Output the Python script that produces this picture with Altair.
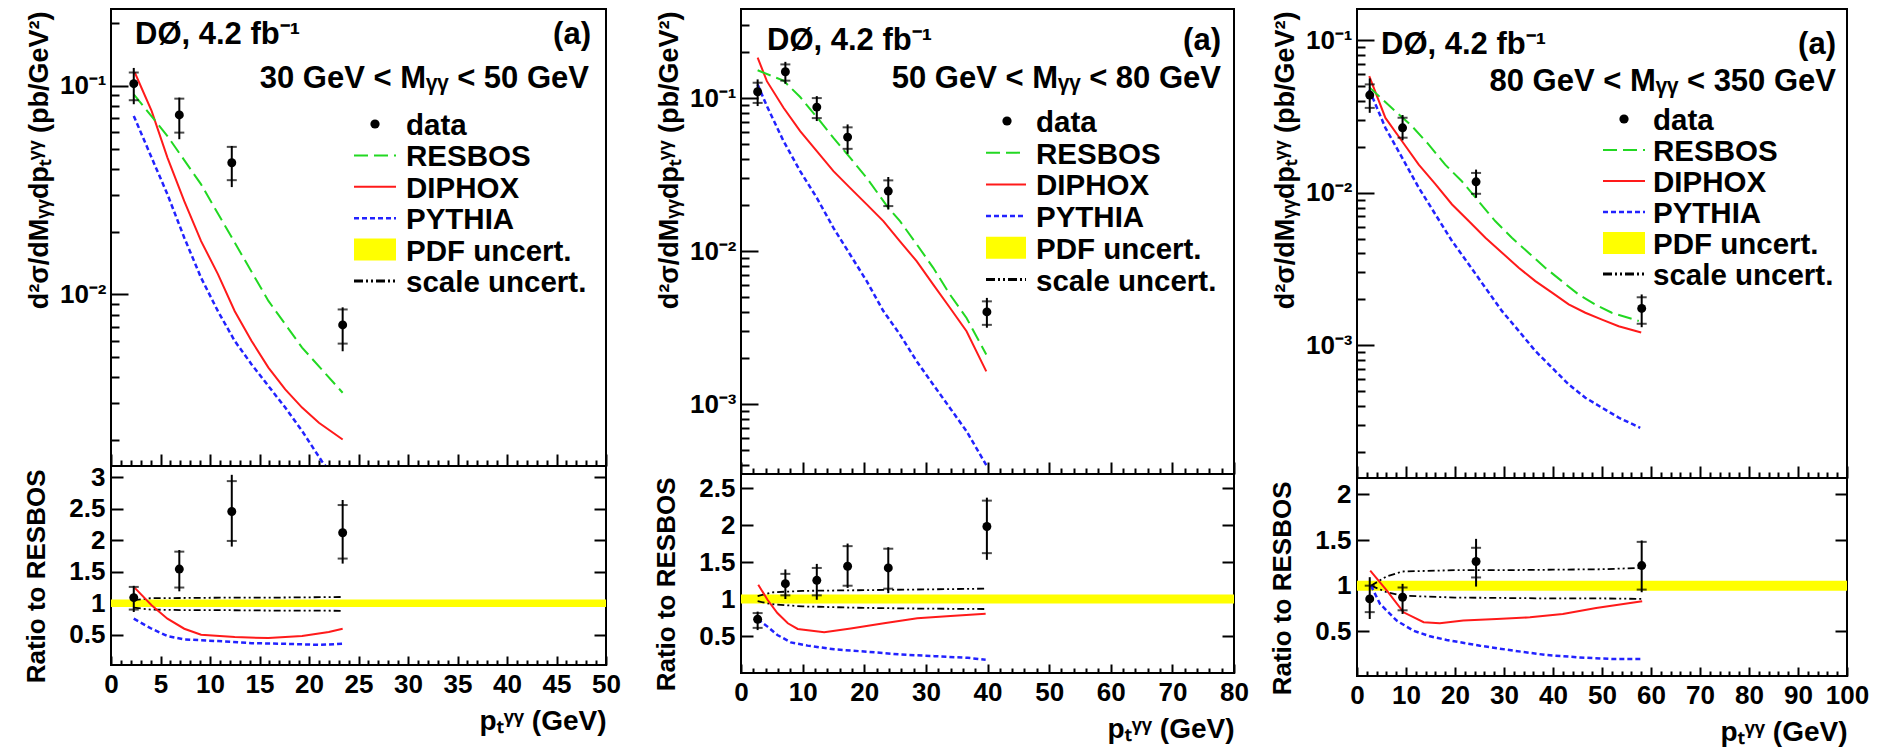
import altair as alt
import pandas as pd

FONT = "Liberation Sans"
GREEN = "#22d822"
RED = "#ff1a1a"
BLUE = "#2222ff"
YELLOW = "#ffff00"

EXPT_LABEL = "DØ, 4.2 fb⁻¹"
PANEL_TAG = "(a)"
MASS_LABELS = ["30 GeV < Mᵧᵧ < 50 GeV", "50 GeV < Mᵧᵧ < 80 GeV", "80 GeV < Mᵧᵧ < 350 GeV"]
LEGEND_LABELS = ["data", "RESBOS", "DIPHOX", "PYTHIA", "PDF uncert.", "scale uncert."]
Y_TITLE = "d²σ/dMᵧᵧdpₜᵞᵞ (pb/GeV²)"
R_TITLE = "Ratio to RESBOS"
X_TITLE = "pₜᵞᵞ (GeV)"

# ---------------- Panel 1 : 30 < M < 50 GeV ----------------
P1_XMAX = 50
P1_X = [2.3, 6.9, 12.2, 23.4]
P1_Y = [0.1025, 0.0726, 0.0428, 0.00713]
P1_TOT_LO = [0.0817, 0.0555, 0.0327, 0.00533]
P1_TOT_HI = [0.122, 0.0879, 0.0515, 0.00866]
P1_STAT_LO = [0.0854, 0.0597, 0.0353, 0.0058]
P1_STAT_HI = [0.116, 0.0869, 0.051, 0.00846]
P1_RES_X = [2.3, 5.7, 9.1, 12.5, 15.9, 19.3, 23.4]
P1_RES_Y = [0.0912, 0.0575, 0.0337, 0.0177, 0.0093, 0.00555, 0.00337]
P1_DIP_X = [2.4, 4.1, 5.7, 7.4, 9.1, 10.8, 12.5, 14.2, 15.9, 17.6, 19.3, 21.0, 23.4]
P1_DIP_Y = [0.116, 0.0759, 0.0453, 0.028, 0.018, 0.0125, 0.0083, 0.00597, 0.00445, 0.0035, 0.00286, 0.00242, 0.00201]
P1_PYT_X = [2.3, 4.1, 5.7, 7.4, 9.1, 10.8, 12.5, 14.2, 15.9, 17.6, 19.3, 21.3, 23.4]
P1_PYT_Y = [0.0718, 0.0453, 0.0302, 0.0187, 0.012, 0.0083, 0.00597, 0.00461, 0.00363, 0.00286, 0.00221, 0.00158, 0.00118]
P1_R = [1.09, 1.543, 2.457, 2.12]
P1_R_TOT_LO = [0.862, 1.19, 1.90, 1.63]
P1_R_TOT_HI = [1.277, 1.846, 3.04, 2.64]
P1_R_STAT_LO = [0.90, 1.25, 1.99, 1.71]
P1_R_STAT_HI = [1.26, 1.82, 2.94, 2.56]
P1_RDIP_X = [2.4, 4.1, 5.7, 7.4, 9.1, 12.5, 15.9, 19.3, 22.0, 23.4]
P1_RDIP_Y = [1.245, 0.968, 0.755, 0.596, 0.50, 0.463, 0.447, 0.479, 0.543, 0.596]
P1_RPYT_X = [2.3, 4.1, 5.7, 7.4, 10.8, 14.2, 17.6, 21.0, 23.4]
P1_RPYT_Y = [0.755, 0.596, 0.479, 0.426, 0.40, 0.367, 0.356, 0.34, 0.356]
P1_SCALE_X = [2.3, 4.0, 8.0, 12.0, 16.0, 20.0, 23.4]
P1_SCALE_UP = [1.05, 1.08, 1.085, 1.09, 1.09, 1.095, 1.10]
P1_SCALE_DN = [0.93, 0.90, 0.89, 0.89, 0.885, 0.885, 0.88]
P1_BAND = [0.94, 1.06]

# ---------------- Panel 2 : 50 < M < 80 GeV ----------------
P2_XMAX = 80
P2_X = [2.7, 7.2, 12.3, 17.3, 23.9, 39.9]
P2_Y = [0.11, 0.1486, 0.0873, 0.0556, 0.0247, 0.00401]
P2_TOT_LO = [0.0887, 0.124, 0.0708, 0.0432, 0.0187, 0.00316]
P2_TOT_HI = [0.1325, 0.1725, 0.103, 0.0673, 0.0305, 0.00495]
P2_STAT_LO = [0.093, 0.130, 0.074, 0.0466, 0.0197, 0.0033]
P2_STAT_HI = [0.126, 0.166, 0.10, 0.0644, 0.029, 0.0047]
P2_RES_X = [2.7, 6.9, 9.6, 12.3, 15.0, 17.7, 20.4, 23.9, 25.8, 28.5, 31.2, 33.9, 36.6, 39.8]
P2_RES_Y = [0.152, 0.130, 0.1016, 0.0752, 0.055, 0.0408, 0.0301, 0.0192, 0.0157, 0.0111, 0.00778, 0.00521, 0.00366, 0.00211]
P2_DIP_X = [2.7, 4.2, 6.9, 9.6, 12.3, 15.0, 17.7, 20.4, 23.1, 25.8, 28.5, 31.2, 33.9, 36.6, 39.8]
P2_DIP_Y = [0.1836, 0.129, 0.0865, 0.0608, 0.045, 0.0333, 0.0259, 0.0202, 0.0157, 0.0116, 0.0086, 0.00605, 0.00427, 0.003, 0.00164]
P2_PYT_X = [2.7, 4.2, 6.9, 9.6, 12.3, 15.0, 17.7, 20.4, 23.1, 25.8, 28.5, 31.2, 33.9, 36.6, 39.8]
P2_PYT_Y = [0.1228, 0.0887, 0.0524, 0.0333, 0.0223, 0.0142, 0.00951, 0.00637, 0.00406, 0.00285, 0.00191, 0.00134, 0.000946, 0.000666, 0.00040]
P2_R = [0.727, 1.207, 1.253, 1.443, 1.42, 1.98]
P2_R_TOT_LO = [0.58, 1.0, 0.99, 1.15, 1.08, 1.53]
P2_R_TOT_HI = [0.83, 1.40, 1.475, 1.75, 1.70, 2.37]
P2_R_STAT_LO = [0.61, 1.05, 1.05, 1.18, 1.14, 1.62]
P2_R_STAT_HI = [0.81, 1.34, 1.42, 1.715, 1.68, 2.33]
P2_RDIP_X = [2.8, 4.3, 5.9, 7.6, 9.2, 13.5, 17.8, 23.2, 28.6, 34.0, 39.7]
P2_RDIP_Y = [1.194, 0.99, 0.81, 0.672, 0.595, 0.55, 0.60, 0.672, 0.74, 0.77, 0.80]
P2_RPYT_X = [2.7, 4.3, 5.9, 8.1, 10.8, 15.1, 20.5, 25.9, 31.4, 36.8, 39.7]
P2_RPYT_Y = [0.727, 0.627, 0.514, 0.414, 0.37, 0.32, 0.287, 0.25, 0.228, 0.205, 0.18]
P2_SCALE_X = [2.7, 5.0, 10.0, 20.0, 30.0, 39.7]
P2_SCALE_UP = [1.04, 1.09, 1.11, 1.12, 1.13, 1.14]
P2_SCALE_DN = [0.97, 0.93, 0.90, 0.88, 0.87, 0.865]
P2_BAND = [0.94, 1.06]

# ---------------- Panel 3 : 80 < M < 350 GeV ----------------
P3_XMAX = 100
P3_X = [2.6, 9.3, 24.3, 58.1]
P3_Y = [0.0438, 0.0267, 0.0118, 0.00174]
P3_TOT_LO = [0.0335, 0.0221, 0.00927, 0.00131]
P3_TOT_HI = [0.0564, 0.0324, 0.0142, 0.00215]
P3_STAT_LO = [0.0361, 0.023, 0.00985, 0.00138]
P3_STAT_HI = [0.0515, 0.0311, 0.0135, 0.00206]
P3_RES_X = [2.5, 7.8, 11.2, 14.6, 18.0, 21.4, 24.8, 28.2, 31.6, 35.0, 38.4, 41.8, 45.2, 48.6, 52.0, 57.5]
P3_RES_Y = [0.0494, 0.0344, 0.0274, 0.0208, 0.0153, 0.0119, 0.00881, 0.00652, 0.00507, 0.00404, 0.00322, 0.00263, 0.00215, 0.00185, 0.00163, 0.00144]
P3_DIP_X = [2.5, 5.8, 9.2, 12.6, 16.0, 19.4, 22.8, 26.2, 29.6, 33.0, 36.4, 39.8, 43.2, 46.6, 50.0, 53.4, 58.0]
P3_DIP_Y = [0.0583, 0.031, 0.0218, 0.0153, 0.0114, 0.00838, 0.00652, 0.00507, 0.00404, 0.00322, 0.00263, 0.00221, 0.00185, 0.00163, 0.00147, 0.00133, 0.00121]
P3_PYT_X = [2.5, 5.8, 9.2, 12.6, 16.0, 19.4, 22.8, 26.2, 29.6, 33.0, 36.4, 39.8, 43.2, 46.6, 50.0, 53.4, 57.8]
P3_PYT_Y = [0.0476, 0.0267, 0.017, 0.0108, 0.00721, 0.00482, 0.00339, 0.00238, 0.00167, 0.00124, 0.000914, 0.00071, 0.000552, 0.000451, 0.000388, 0.000334, 0.000286]
P3_R = [0.855, 0.873, 1.265, 1.22]
P3_R_TOT_LO = [0.635, 0.69, 0.99, 0.928]
P3_R_TOT_HI = [1.093, 1.02, 1.513, 1.495]
P3_R_STAT_LO = [0.71, 0.73, 1.09, 0.957]
P3_R_STAT_HI = [1.0, 0.98, 1.415, 1.48]
P3_RDIP_X = [2.7, 6.1, 9.5, 13.6, 16.9, 21.7, 28.5, 35.3, 42.0, 48.8, 58.2]
P3_RDIP_Y = [1.166, 0.946, 0.708, 0.60, 0.588, 0.617, 0.635, 0.653, 0.69, 0.756, 0.829]
P3_RPYT_X = [2.85, 4.7, 8.1, 11.5, 14.9, 18.3, 25.1, 31.9, 38.6, 45.4, 52.2, 58.2]
P3_RPYT_Y = [1.0, 0.80, 0.617, 0.507, 0.445, 0.405, 0.342, 0.288, 0.24, 0.214, 0.196, 0.196]
P3_SCALE_X = [2.85, 6.0, 9.2, 20.0, 30.0, 40.0, 50.0, 58.2]
P3_SCALE_UP = [1.0, 1.10, 1.155, 1.17, 1.17, 1.175, 1.18, 1.195]
P3_SCALE_DN = [1.0, 0.93, 0.89, 0.87, 0.865, 0.86, 0.86, 0.855]
P3_BAND = [0.945, 1.055]

PANELS = [
    dict(xmax=P1_XMAX, x=P1_X, y=P1_Y, tlo=P1_TOT_LO, thi=P1_TOT_HI, slo=P1_STAT_LO, shi=P1_STAT_HI,
         res=(P1_RES_X, P1_RES_Y), dip=(P1_DIP_X, P1_DIP_Y), pyt=(P1_PYT_X, P1_PYT_Y),
         r=P1_R, rtlo=P1_R_TOT_LO, rthi=P1_R_TOT_HI, rslo=P1_R_STAT_LO, rshi=P1_R_STAT_HI,
         rdip=(P1_RDIP_X, P1_RDIP_Y), rpyt=(P1_RPYT_X, P1_RPYT_Y),
         scale=(P1_SCALE_X, P1_SCALE_UP, P1_SCALE_DN), band=P1_BAND, mass=MASS_LABELS[0],
         width=495, main_h=457, ratio_h=199, main_dom=[0.0015, 0.234], ratio_dom=[0.02, 3.18],
         xstep=5, xminor=1, rticks=[0.5, 1, 1.5, 2, 2.5, 3],
         expt=(24, 26), tag=(480, 26), masspos=(478, 70), leg=(264, 243, 285, 295, 115, 31.4)),
    dict(xmax=P2_XMAX, x=P2_X, y=P2_Y, tlo=P2_TOT_LO, thi=P2_TOT_HI, slo=P2_STAT_LO, shi=P2_STAT_HI,
         res=(P2_RES_X, P2_RES_Y), dip=(P2_DIP_X, P2_DIP_Y), pyt=(P2_PYT_X, P2_PYT_Y),
         r=P2_R, rtlo=P2_R_TOT_LO, rthi=P2_R_TOT_HI, rslo=P2_R_STAT_LO, rshi=P2_R_STAT_HI,
         rdip=(P2_RDIP_X, P2_RDIP_Y), rpyt=(P2_RPYT_X, P2_RPYT_Y),
         scale=(P2_SCALE_X, P2_SCALE_UP, P2_SCALE_DN), band=P2_BAND, mass=MASS_LABELS[1],
         width=493, main_h=465, ratio_h=199, main_dom=[0.00035, 0.382], ratio_dom=[0.0, 2.69],
         xstep=10, xminor=2, rticks=[0.5, 1, 1.5, 2, 2.5],
         expt=(26, 32), tag=(480, 32), masspos=(480, 70), leg=(266, 245, 285, 295, 112, 31.7)),
    dict(xmax=P3_XMAX, x=P3_X, y=P3_Y, tlo=P3_TOT_LO, thi=P3_TOT_HI, slo=P3_STAT_LO, shi=P3_STAT_HI,
         res=(P3_RES_X, P3_RES_Y), dip=(P3_DIP_X, P3_DIP_Y), pyt=(P3_PYT_X, P3_PYT_Y),
         r=P3_R, rtlo=P3_R_TOT_LO, rthi=P3_R_TOT_HI, rslo=P3_R_STAT_LO, rshi=P3_R_STAT_HI,
         rdip=(P3_RDIP_X, P3_RDIP_Y), rpyt=(P3_RPYT_X, P3_RPYT_Y),
         scale=(P3_SCALE_X, P3_SCALE_UP, P3_SCALE_DN), band=P3_BAND, mass=MASS_LABELS[2],
         width=490, main_h=469, ratio_h=198, main_dom=[0.000134, 0.161], ratio_dom=[0.01, 2.18],
         xstep=10, xminor=2, rticks=[0.5, 1, 1.5, 2],
         expt=(24, 36), tag=(479, 36), masspos=(479, 73), leg=(267, 246, 288, 296, 110, 31.0)),
]

AXC = dict(domain=False, grid=False, tickColor="black", tickWidth=2, labelOverlap=False)
LOG_LABEL = ("datum.value < 0.00015 ? '10⁻⁴' : datum.value < 0.0015 ? '10⁻³' : "
             "datum.value < 0.015 ? '10⁻²' : '10⁻¹'")


def one_row():
    return pd.DataFrame({"k": [0]})


def text_layer(txt, x, y, align, size=31):
    return alt.Chart(pd.DataFrame({"t": [txt]})).mark_text(
        font=FONT, fontWeight="bold", fontSize=size, align=align, baseline="middle", color="black"
    ).encode(x=alt.value(x), y=alt.value(y), text="t:N")


def curve(xs, ys, color, width, dash, xsc, ysc):
    kw = dict(color=color, strokeWidth=width, clip=True)
    if dash:
        kw["strokeDash"] = dash
    return alt.Chart(pd.DataFrame({"x": xs, "y": ys})).mark_line(**kw).encode(
        x=alt.X("x:Q", scale=xsc, axis=None), y=alt.Y("y:Q", scale=ysc, axis=None))


def errbars(df, xsc, ysc):
    base = alt.Chart(df)
    X = alt.X("x:Q", scale=xsc, axis=None)
    return [
        base.mark_rule(color="black", strokeWidth=2).encode(
            x=X, y=alt.Y("tlo:Q", scale=ysc, axis=None), y2="thi:Q"),
        base.mark_tick(orient="horizontal", color="black", thickness=2, size=10).encode(
            x=X, y=alt.Y("slo:Q", scale=ysc, axis=None)),
        base.mark_tick(orient="horizontal", color="black", thickness=2, size=10).encode(
            x=X, y=alt.Y("shi:Q", scale=ysc, axis=None)),
        base.mark_point(filled=True, shape="circle", size=80, color="black", opacity=1).encode(
            x=X, y=alt.Y("y:Q", scale=ysc, axis=None)),
    ]


def build_column(P):
    W = P["width"]
    xmax = P["xmax"]
    xsc = alt.Scale(domain=[0, xmax], nice=False, zero=False)
    ysm = alt.Scale(type="log", domain=P["main_dom"], nice=False)
    ysr = alt.Scale(domain=P["ratio_dom"], nice=False, zero=False)
    xmaj = list(range(0, xmax + 1, P["xstep"]))
    xmin = [v for v in range(0, xmax + 1, P["xminor"]) if v % P["xstep"] != 0]
    lo, hi = P["main_dom"]
    decades = [10.0 ** e for e in range(-4, 0) if lo <= 10.0 ** e <= hi]
    yminor = [m * 10.0 ** e for e in range(-4, 0) for m in range(2, 10) if lo <= m * 10.0 ** e <= hi]

    pts = pd.DataFrame({"x": P["x"], "y": P["y"], "tlo": P["tlo"], "thi": P["thi"],
                        "slo": P["slo"], "shi": P["shi"]})
    rpts = pd.DataFrame({"x": P["x"], "y": P["r"], "tlo": P["rtlo"], "thi": P["rthi"],
                         "slo": P["rslo"], "shi": P["rshi"]})

    # ---------- main panel ----------
    ml = []
    ml.append(alt.Chart(pts).mark_point(opacity=0).encode(
        x=alt.X("x:Q", scale=xsc, axis=alt.Axis(orient="bottom", values=xmaj, tickSize=12, offset=-12,
                                                 labels=False, title=None, **AXC)),
        y=alt.Y("y:Q", scale=ysm, axis=alt.Axis(orient="left", values=decades, tickSize=17, offset=-17,
                                                 labelPadding=5, labelExpr=LOG_LABEL,
                                                 title=Y_TITLE, titleAngle=270, titleAlign="right",
                                                 titleBaseline="middle", titleX=-72 - 17, titleY=2,
                                                 titleFontSize=27, **AXC))))
    ml.append(alt.Chart(pts).mark_point(opacity=0).encode(
        x=alt.X("x:Q", scale=xsc, axis=alt.Axis(orient="bottom", values=xmin, tickSize=6, offset=-6,
                                                 labels=False, title=None, **AXC)),
        y=alt.Y("y:Q", scale=ysm, axis=alt.Axis(orient="left", values=yminor, tickSize=8, offset=-8,
                                                 labels=False, title=None, **AXC))))
    ml.append(curve(*P["pyt"], BLUE, 2.5, [5, 3], xsc, ysm))
    ml.append(curve(*P["dip"], RED, 2, None, xsc, ysm))
    ml.append(curve(*P["res"], GREEN, 2, [14, 6], xsc, ysm))
    ml.extend(errbars(pts, xsc, ysm))

    ex, ey = P["expt"]
    ml.append(text_layer(EXPT_LABEL, ex, ey, "left"))
    tx, ty = P["tag"]
    ml.append(text_layer(PANEL_TAG, tx, ty, "right"))
    mx, my = P["masspos"]
    ml.append(text_layer(P["mass"], mx, my, "right"))

    dotx, lx0, lx1, txx, y0, dy = P["leg"]
    rows = [y0 + i * dy for i in range(len(LEGEND_LABELS))]
    ml.append(alt.Chart(one_row()).mark_point(filled=True, shape="circle", size=85, color="black", opacity=1)
              .encode(x=alt.value(dotx), y=alt.value(rows[0])))
    ml.append(alt.Chart(one_row()).mark_rule(color=GREEN, strokeWidth=2, strokeDash=[14, 6])
              .encode(x=alt.value(lx0), x2=alt.value(lx1), y=alt.value(rows[1])))
    ml.append(alt.Chart(one_row()).mark_rule(color=RED, strokeWidth=2)
              .encode(x=alt.value(lx0), x2=alt.value(lx1), y=alt.value(rows[2])))
    ml.append(alt.Chart(one_row()).mark_rule(color=BLUE, strokeWidth=2.5, strokeDash=[5, 3])
              .encode(x=alt.value(lx0), x2=alt.value(lx1), y=alt.value(rows[3])))
    ml.append(alt.Chart(one_row()).mark_rect(color=YELLOW)
              .encode(x=alt.value(lx0), x2=alt.value(lx1), y=alt.value(rows[4] - 11), y2=alt.value(rows[4] + 11)))
    ml.append(alt.Chart(one_row()).mark_rule(color="black", strokeWidth=3, strokeDash=[9, 3, 2, 3, 2, 3])
              .encode(x=alt.value(lx0), x2=alt.value(lx1), y=alt.value(rows[5])))
    for lab, ry in zip(LEGEND_LABELS, rows):
        ml.append(text_layer(lab, txx, ry + 2, "left", size=29.5))

    main = alt.layer(*ml).resolve_axis(x="independent", y="independent").properties(
        width=W, height=P["main_h"])

    # ---------- ratio panel ----------
    rl = []
    band = pd.DataFrame({"x0": [0], "x1": [xmax], "lo": [P["band"][0]], "hi": [P["band"][1]]})
    rl.append(alt.Chart(band).mark_rect(color=YELLOW).encode(
        x=alt.X("x0:Q", scale=xsc, axis=None), x2="x1:Q",
        y=alt.Y("lo:Q", scale=ysr, axis=None), y2="hi:Q"))
    sx, sup, sdn = P["scale"]
    rl.append(curve(sx, sup, "black", 1.8, [7, 3, 2, 3, 2, 3], xsc, ysr))
    rl.append(curve(sx, sdn, "black", 1.8, [7, 3, 2, 3, 2, 3], xsc, ysr))
    rl.append(curve(*P["rpyt"], BLUE, 2.5, [5, 3], xsc, ysr))
    rl.append(curve(*P["rdip"], RED, 2, None, xsc, ysr))
    rl.extend(errbars(rpts, xsc, ysr))
    rl.append(alt.Chart(rpts).mark_point(opacity=0).encode(
        x=alt.X("x:Q", scale=xsc, axis=alt.Axis(orient="bottom", values=xmaj, tickSize=9, offset=-9,
                                                 labels=True, labelPadding=6, labelFlush=False, format="d",
                                                 title=X_TITLE, titleAlign="right", titleBaseline="top",
                                                 titleX=W, titleY=9 + 42, titleFontSize=28, **AXC)),
        y=alt.Y("y:Q", scale=ysr, axis=alt.Axis(orient="left", values=P["rticks"], tickSize=12, offset=-12,
                                                 labelPadding=6, format="~g",
                                                 title=R_TITLE, titleAngle=270, titleAlign="right",
                                                 titleBaseline="middle", titleX=-75 - 12, titleY=3,
                                                 titleFontSize=26, **AXC))))
    rl.append(alt.Chart(rpts).mark_point(opacity=0).encode(
        x=alt.X("x:Q", scale=xsc, axis=alt.Axis(orient="bottom", values=xmin, tickSize=5, offset=-5,
                                                 labels=False, title=None, **AXC)),
        y=alt.Y("y:Q", scale=ysr, axis=alt.Axis(orient="right", values=P["rticks"], tickSize=12, offset=-12,
                                                 labels=False, title=None, **AXC))))
    ratio = alt.layer(*rl).resolve_axis(x="independent", y="independent").properties(
        width=W, height=P["ratio_h"])

    return alt.vconcat(main, ratio, spacing=0, bounds="flush")


cols = [build_column(P) for P in PANELS]

right_pair = alt.hconcat(cols[1], cols[2], spacing=18)
chart = alt.hconcat(cols[0], right_pair, spacing=30).properties(
    padding={"left": 14, "top": 0, "right": 4, "bottom": 0},
    background="white",
).configure_view(
    stroke="black", strokeWidth=2
).configure_axis(
    labelFont=FONT, labelFontSize=26, labelFontWeight="bold", labelColor="black",
    titleFont=FONT, titleFontWeight="bold", titleColor="black",
)

chart.save("out.html", embed_options={"renderer": "svg", "actions": False})
